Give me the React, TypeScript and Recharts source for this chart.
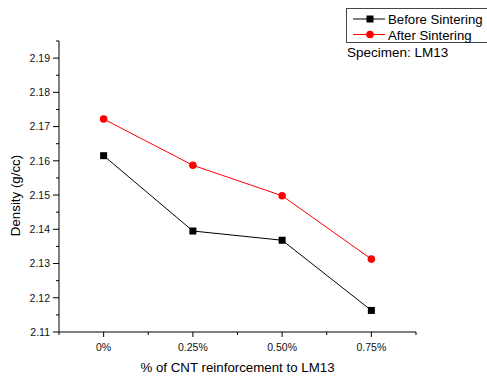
import { LineChart, Line, XAxis, YAxis, Label } from 'recharts';

const categories = ['0%', '0.25%', '0.50%', '0.75%'];
const beforeSintering = [2.1615, 2.1395, 2.1368, 2.1163];
const afterSintering = [2.1722, 2.1587, 2.1498, 2.1313];
const xTicks = [-0.5, 0, 0.5, 1, 1.5, 2, 2.5, 3, 3.5];
const yTicks = [2.11, 2.115, 2.12, 2.125, 2.13, 2.135, 2.14, 2.145, 2.15, 2.155, 2.16, 2.165, 2.17, 2.175, 2.18, 2.185, 2.19, 2.195];

const FONT = '"Liberation Sans", Arial, sans-serif';

const data = categories.map((c, i) => ({
  x: i,
  label: c,
  before: beforeSintering[i],
  after: afterSintering[i],
}));

const isMajorY = (v: number) => Math.round(v * 1000) % 10 === 0;

function YTick(props: any) {
  const { x, y, payload } = props;
  const axisX = x + 9; // tickSize 6 + tickMargin 3
  const major = isMajorY(payload.value);
  return (
    <g>
      <line x1={axisX - (major ? 6 : 3)} x2={axisX} y1={y} y2={y} stroke="#000" strokeWidth={1} />
      {major && (
        <text x={x} y={y} dy={3.8} textAnchor="end" fontSize={10.5} fontFamily={FONT} fill="#111">
          {payload.value.toFixed(2)}
        </text>
      )}
    </g>
  );
}

function XTick(props: any) {
  const { x, y, payload } = props;
  const axisY = y - 9; // tickSize 5 + tickMargin 4
  const major = Number.isInteger(payload.value);
  return (
    <g>
      <line x1={x} x2={x} y1={axisY} y2={axisY + (major ? 5 : 3)} stroke="#000" strokeWidth={1} />
      {major && (
        <text x={x} y={axisY + 19} textAnchor="middle" fontSize={10.5} fontFamily={FONT} fill="#111">
          {categories[payload.value]}
        </text>
      )}
    </g>
  );
}

function Square(props: any) {
  const { cx, cy, index } = props;
  return <rect key={`sq-${index}`} x={cx - 3.5} y={cy - 3.5} width={7} height={7} fill="#000" />;
}

function LegendBox() {
  return (
    <div style={{ position: 'absolute', left: 346, top: 8, fontFamily: FONT, fontSize: 13.5, color: '#000' }}>
      <svg width={141} height={36} style={{ display: 'block' }}>
        <rect x={0.5} y={0.5} width={145} height={34} fill="#fff" stroke="#444" />
        <line x1={7} x2={39} y1={11} y2={11} stroke="#000" />
        <rect x={20.5} y={7.5} width={7} height={7} fill="#000" />
        <line x1={7} x2={39} y1={26.5} y2={26.5} stroke="#ff0000" />
        <circle cx={24} cy={26.5} r={3.8} fill="#ff0000" />
        <text x={42} y={16} fontSize={13.2} fontFamily={FONT}>Before Sintering</text>
        <text x={42} y={31.5} fontSize={13.2} fontFamily={FONT}>After Sintering</text>
      </svg>
      <div style={{ marginTop: 1, marginLeft: 1, lineHeight: '16px' }}>Specimen: LM13</div>
    </div>
  );
}

export default function App() {
  return (
    <div style={{ position: 'fixed', left: 0, top: 0, width: 487, height: 376, background: '#fff', overflow: 'hidden' }}>
      <LineChart width={487} height={376} data={data} margin={{ top: 41, right: 71, bottom: 0, left: 9 }}>
        <XAxis
          type="number"
          dataKey="x"
          domain={[-0.5, 3.5]}
          ticks={xTicks}
          interval={0}
          height={44}
          tickSize={5}
          tickMargin={4}
          tickLine={false}
          axisLine={{ stroke: '#000' }}
          tick={<XTick />}
        >
          <Label
            content={({ viewBox }: any) => (
              <text
                x={viewBox.x + viewBox.width / 2}
                y={viewBox.y + 40}
                textAnchor="middle"
                fontSize={13.3}
                fontFamily={FONT}
                fill="#000"
              >
                % of CNT reinforcement to LM13
              </text>
            )}
          />
        </XAxis>
        <YAxis
          type="number"
          domain={[2.11, 2.195]}
          ticks={yTicks}
          interval={0}
          width={50}
          tickSize={6}
          tickMargin={3}
          tickLine={false}
          axisLine={{ stroke: '#000' }}
          tick={<YTick />}
        >
          <Label
            content={({ viewBox }: any) => {
              const cx = viewBox.x + 11;
              const cy = viewBox.y + viewBox.height / 2 + 9;
              return (
                <text
                  x={cx}
                  y={cy}
                  transform={`rotate(-90 ${cx} ${cy})`}
                  textAnchor="middle"
                  fontSize={13.3}
                  fontFamily={FONT}
                  fill="#000"
                >
                  Density (g/cc)
                </text>
              );
            }}
          />
        </YAxis>
        <Line
          dataKey="before"
          name="Before Sintering"
          stroke="#000"
          strokeWidth={1}
          dot={<Square />}
          isAnimationActive={false}
        />
        <Line
          dataKey="after"
          name="After Sintering"
          stroke="#ff0000"
          strokeWidth={1}
          dot={{ r: 3.8, fill: '#ff0000', stroke: '#ff0000', strokeWidth: 0 }}
          isAnimationActive={false}
        />
      </LineChart>
      <LegendBox />
    </div>
  );
}
